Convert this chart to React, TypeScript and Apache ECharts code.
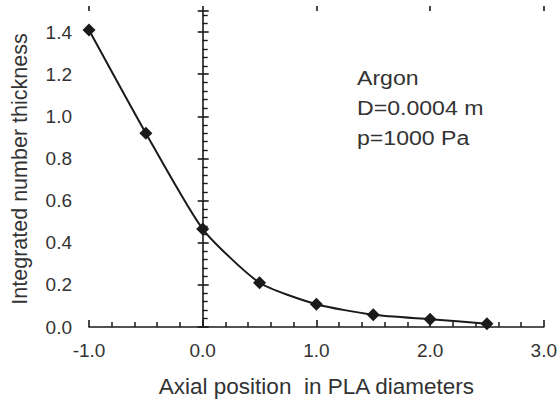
import React, { useEffect, useRef } from "react";
import * as echarts from "echarts";

const xValues = [-1.0, -0.5, 0.0, 0.5, 1.0, 1.5, 2.0, 2.5];
const thickness = [1.41, 0.92, 0.465, 0.21, 0.108, 0.058, 0.037, 0.016];
const annotationLines = ["Argon", "D=0.0004 m", "p=1000 Pa"];
const xName = "Axial position  in PLA diameters";
const yName = "Integrated number thickness";

const INK = "#1a1a1a";
const FONT = "'Liberation Sans', Arial, sans-serif";

export default function App() {
  const ref = useRef<HTMLDivElement>(null);
  useEffect(() => {
    if (!ref.current) return;
    const chart = echarts.init(ref.current, undefined, { renderer: "svg" });
    const xBase = { type: "value", min: -1, max: 3, interval: 1, splitLine: { show: false } };
    const yBase = { type: "value", min: 0, max: 1.5, interval: 0.2, splitLine: { show: false } };
    chart.setOption({
      animation: false,
      grid: { left: 89, right: 14, top: 11, bottom: 76 },
      xAxis: [
        {
          ...xBase,
          name: xName,
          nameLocation: "middle",
          nameGap: 48,
          nameTextStyle: { fontFamily: FONT, fontSize: 22.5, color: "#333" },
          axisLine: { show: true, onZero: false, lineStyle: { color: INK, width: 1.6 } },
          axisTick: { show: true, inside: true, length: 7, lineStyle: { color: INK, width: 1.6 } },
          minorTick: { show: true, splitNumber: 5, length: 5, lineStyle: { color: INK, width: 1.5 } },
          axisLabel: {
            fontFamily: FONT,
            fontSize: 19,
            color: "#333",
            margin: 14,
            formatter: (v: number) => v.toFixed(1),
          },
        },
        {
          ...xBase,
          axisLine: { show: false, onZero: false },
          axisTick: { show: true, inside: false, length: 5, lineStyle: { color: INK, width: 1.6 } },
          axisLabel: { show: false },
        },
      ],
      yAxis: [
        {
          ...yBase,
          position: "left",
          axisLine: { show: true, onZero: true, onZeroAxisIndex: 0, lineStyle: { color: INK, width: 1.6 } },
          axisTick: { show: true, inside: true, length: 6, lineStyle: { color: INK, width: 1.6 } },
          minorTick: { show: true, splitNumber: 5, length: 5, lineStyle: { color: INK, width: 1.4 } },
          axisLabel: { show: false },
        },
        {
          ...yBase,
          position: "left",
          name: yName,
          nameLocation: "middle",
          nameGap: 58,
          nameTextStyle: { fontFamily: FONT, fontSize: 21.5, color: "#333" },
          axisLine: { show: false, onZero: false },
          axisTick: { show: false },
          axisLabel: {
            fontFamily: FONT,
            fontSize: 19,
            color: "#333",
            margin: 17,
            showMaxLabel: false,
            formatter: (v: number) => (v > 1.45 ? "" : v.toFixed(1)),
          },
        },
        {
          ...yBase,
          position: "left",
          axisLine: { show: false, onZero: true, onZeroAxisIndex: 0 },
          axisTick: { show: true, inside: false, length: 5, lineStyle: { color: INK, width: 1.6 } },
          axisLabel: { show: false },
        },
      ],
      series: [
        {
          type: "line",
          xAxisIndex: 0,
          yAxisIndex: 0,
          data: xValues.map((x, i) => [x, thickness[i]]),
          smooth: 0.2,
          symbol: "diamond",
          symbolSize: 13,
          lineStyle: { color: INK, width: 2 },
          itemStyle: { color: INK },
        },
      ],
      graphic: annotationLines.map((t, i) => ({
        type: "text",
        left: 357,
        top: 67 + i * 30,
        scaleX: 1.1,
        style: { text: t, fontFamily: FONT, fontSize: 21, fill: "#333" },
      })),
    });
    return () => chart.dispose();
  }, []);
  return <div ref={ref} style={{ width: 560, height: 403, position: "absolute", left: 0, top: 0 }} />;
}
